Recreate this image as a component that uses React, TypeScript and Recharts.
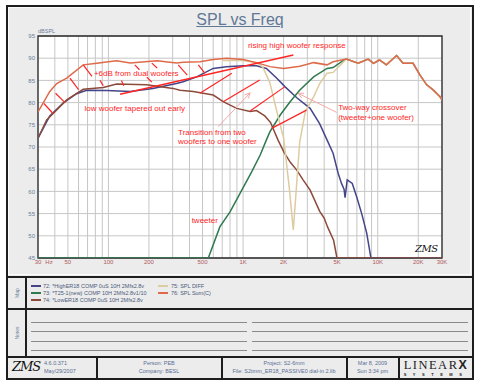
import React from 'react';
import { LineChart, Line, XAxis, YAxis, CartesianGrid, ReferenceLine, ReferenceDot, ReferenceArea } from 'recharts';

type Pt = { f: number; v: number };
const mk = (pairs: number[][]): Pt[] => pairs.map(([f, v]) => ({ f, v }));

// 72: high woofer
const highWoofer = mk([
  [30, 72], [36.7, 77], [45.7, 79.8], [58, 82], [69, 82.8], [97, 82.7], [145, 82.5], [214, 83.2],
  [320, 84.3], [359, 84.7], [452, 85.8], [600, 87.7], [754, 88.1], [1000, 88.3], [1258, 88.3],
  [1490, 87.7], [1780, 85.5], [2044, 83.6], [2505, 81.1], [3147, 78.7], [3708, 75.2], [4200, 71.6],
  [4660, 68.6], [5080, 64.1], [5380, 61.8], [5620, 60.5], [5720, 58.6], [5930, 62.6], [6470, 61.8],
  [6970, 58.8], [7600, 55], [8280, 50.6], [8900, 45], [30000, 45],
]);

// 73: tweeter
const tweeter = mk([
  [30, 45], [552, 45], [672, 52], [800, 55.4], [978, 60.3], [1158, 64.4], [1340, 68.2], [1490, 71.6],
  [1581, 73.4], [1887, 77.2], [2235, 80.2], [2630, 82.8], [3340, 85.8], [4200, 87.7], [4660, 87.9],
  [5500, 89.4], [5850, 89.8], [7150, 88.85], [8500, 89.8], [9300, 88.85], [10300, 89.6], [11600, 88.5],
  [13800, 90.6], [15400, 88.85], [18300, 88.85], [20600, 86.2], [23100, 84], [25900, 82.8], [29000, 81.3], [30000, 80.6],
]);

// 74: low woofer
const lowWoofer = mk([
  [30, 72], [34.8, 76.1], [49, 80.6], [65, 83], [91.6, 83.4], [115, 84.2], [192, 84], [302, 83.2],
  [340, 82.8], [426, 82.5], [600, 81.7], [711, 80.2], [897, 78.7], [1128, 78], [1258, 78.2], [1450, 77],
  [1600, 75.5], [1815, 71.6], [2014, 68.8], [2250, 66.5], [2505, 64.8], [2790, 62.6], [3147, 60.3],
  [3708, 55.5], [4000, 54], [4240, 52], [4700, 49], [4980, 45], [30000, 45],
]);

// 75: SPL diff
const splDiff = mk([
  [700, 89.5], [1000, 89.5], [1258, 89], [1400, 88], [1580, 84.5], [1780, 78], [2000, 72], [2200, 61],
  [2360, 51.3], [2450, 58], [2630, 71], [2900, 78], [3340, 81.3], [3708, 84.3], [4200, 86.6], [4660, 86.8],
  [5500, 89], [5850, 89.8], [7150, 88.85], [8500, 89.8], [9300, 88.85], [10300, 89.6], [11600, 88.5],
  [13800, 90.6], [15400, 88.85], [18300, 88.85], [20600, 86.2], [23100, 84], [25900, 82.8], [29000, 81.3], [30000, 80.6],
]);

// 76: SPL sum
const splSum = mk([
  [30, 77.9], [36.7, 82.5], [41.3, 84.3], [49, 85.5], [65, 88.5], [82, 88.85], [100, 89.2], [115, 89.4],
  [145, 88.9], [229, 89.4], [320, 88.9], [359, 89.1], [478, 89.2], [600, 89.7], [754, 90], [1000, 89.7],
  [1258, 89], [1581, 88.1], [2000, 87.7], [2643, 88.2], [3340, 89], [4200, 88.5], [4660, 89.2], [5850, 89.8],
  [7150, 88.85], [8500, 89.8], [9300, 88.85], [10300, 89.6], [11600, 88.5], [13800, 90.6], [15400, 88.85],
  [18300, 88.85], [20600, 86.2], [23100, 84], [25900, 82.8], [29000, 81.3], [30000, 80.6],
]);

const FREQ_GRID = [30, 40, 50, 60, 70, 80, 90, 100, 200, 300, 400, 500, 600, 700, 800, 900, 1000, 2000, 3000,
  4000, 5000, 6000, 7000, 8000, 9000, 10000, 20000, 30000];
const FREQ_LABELS: Record<number, string> = {
  30: '30', 50: '50', 100: '100', 200: '200', 500: '500', 1000: '1K', 2000: '2K', 5000: '5K',
  10000: '10K', 20000: '20K', 30000: '30K',
};
const DB_TICKS = [45, 50, 55, 60, 65, 70, 75, 80, 85, 90, 95];

// annotation hatch segments [f1, dB1, f2, dB2]
const hatchSegments = [
  [33.2, 79.8, 38.6, 77.6], [40.5, 82.1, 47.6, 80], [51.8, 85.5, 60, 82.9], [65, 88.5, 75.5, 85.9],
  [86.6, 85, 91.6, 83.8], [125, 85, 130, 83.8], [157, 88.5, 170, 87.4], [193, 85.7, 210, 84.6],
  [210, 88.9, 230, 87.8], [330, 88.5, 385, 86.2], [465, 88.5, 522, 86.6],
  [478, 82.1, 825, 86.6], [711, 80.2, 1330, 85.1], [1128, 78.1, 2044, 83.6], [1630, 74.2, 2958, 78.3],
];
const risingLine = [122, 81.9, 2360, 90.7];
const arrows = [[654, 74.6, 1128, 82.2], [4950, 77.8, 2560, 82.1]];
const annotations: { f: number; v: number; t: string }[] = [
  { f: 1087, v: 92.2, t: 'rising high woofer response' },
  { f: 78, v: 86, t: '+6dB from dual woofers' },
  { f: 66.5, v: 78.2, t: 'low woofer tapered out early' },
  { f: 329, v: 72.8, t: 'Transition from two' },
  { f: 329, v: 70.6, t: 'woofers to one woofer' },
  { f: 5080, v: 78.3, t: 'Two-way crossover' },
  { f: 5080, v: 76.1, t: '(tweeter+one woofer)' },
  { f: 415, v: 52.8, t: 'tweeter' },
];

const legendLeft = [
  { c: '#45458a', t: '72: *HighER18 COMP 0uS 10H 2Mfs2.8v' },
  { c: '#2f7a4f', t: '73: *T25-1(new) COMP 10H 2Mfs2.8v1/10' },
  { c: '#8c4a3a', t: '74: *LowER18 COMP 0uS 10H 2Mfs2.8v' },
];
const legendRight = [
  { c: '#dccca0', t: '75: SPL DIFF' },
  { c: '#de6a4a', t: '76: SPL Sum(C)' },
];

const FONT = "Arial, 'Liberation Sans', sans-serif";
const RED = '#ff2626';
const PINK = '#f4a8a8';

const XTick = (props: any) => {
  const { x, y, payload } = props;
  const lab = FREQ_LABELS[payload.value];
  if (!lab) return null;
  const common = { fontSize: 6, fill: '#b05a5a', fontFamily: FONT, dy: '0.71em' } as any;
  if (payload.value === 30) {
    return (
      <g>
        <text x={x} y={y} textAnchor="middle" {...common}>30</text>
        <text x={x + 11} y={y} textAnchor="middle" {...common}>Hz</text>
      </g>
    );
  }
  return <text x={x} y={y} textAnchor="middle" {...common}>{lab}</text>;
};

const YTick = (props: any) => {
  const { x, y, payload } = props;
  return (
    <text x={x} y={y} textAnchor="end" dy="0.35em" fontSize={6} fill="#6a7f99" fontFamily={FONT}>
      {payload.value}
    </text>
  );
};

const Arrow = (props: any) => {
  const { x1, y1, x2, y2 } = props;
  const a = Math.atan2(y2 - y1, x2 - x1);
  const L = 6;
  const w = 0.45;
  const p1 = `${x2 - L * Math.cos(a - w)},${y2 - L * Math.sin(a - w)}`;
  const p2 = `${x2 - L * Math.cos(a + w)},${y2 - L * Math.sin(a + w)}`;
  return (
    <g>
      <line x1={x1} y1={y1} x2={x2} y2={y2} stroke={PINK} strokeWidth={1} />
      <polyline points={`${p1} ${x2},${y2} ${p2}`} fill="none" stroke={PINK} strokeWidth={1} />
    </g>
  );
};

const textShape = (t: string) => (props: any) => (
  <text x={props.cx} y={props.cy} fill={RED} fontSize={8} fontFamily={FONT}>{t}</text>
);

const abs = (s: React.CSSProperties): React.CSSProperties => ({ position: 'absolute', ...s });

export default function App() {
  const footTxt = (s: React.CSSProperties) => abs({ fontSize: 5.5, color: '#5a6f94', fontFamily: FONT, lineHeight: '7px', ...s });
  return (
    <div style={{ position: 'relative', width: 480, height: 384, background: '#fff', fontFamily: FONT, overflow: 'hidden' }}>
      <style>{'body{margin:0}'}</style>
      {/* outer frame */}
      <div style={abs({ left: 6, top: 5, width: 468, height: 375, background: '#ececec', border: '2px solid #1e1e1e', boxSizing: 'border-box' })} />
      <div style={abs({ left: 8, top: 7, width: 463, height: 268, border: '1px solid #fafafa', boxSizing: 'border-box' })} />
      {/* separators */}
      <div style={abs({ left: 6, top: 275.5, width: 468, height: 2.5, background: '#1e1e1e' })} />
      <div style={abs({ left: 6, top: 307.5, width: 468, height: 2.5, background: '#1e1e1e' })} />
      <div style={abs({ left: 6, top: 355.5, width: 468, height: 2.5, background: '#1e1e1e' })} />
      <div style={abs({ left: 25, top: 278, width: 1.5, height: 78, background: '#1e1e1e' })} />
      {[96, 221, 346, 398].map((x) => (
        <div key={x} style={abs({ left: x, top: 358, width: 1.5, height: 20, background: '#1e1e1e' })} />
      ))}
      {/* title */}
      <div style={abs({ left: 0, width: 480, top: 11, textAlign: 'center', fontSize: 16, lineHeight: '18px', color: '#5f7896', textDecoration: 'underline' })}>
        SPL vs Freq
      </div>
      <div style={abs({ left: 38, top: 28, fontSize: 5.5, lineHeight: '6px', color: '#6a7f99' })}>dBSPL</div>

      {/* chart */}
      <div style={abs({ left: 0, top: 0 })}>
        <LineChart width={480} height={280} margin={{ top: 36, right: 38, bottom: 8, left: 8 }}>
          <CartesianGrid stroke="#c6c6c6" fill="#ffffff" strokeWidth={1} />
          <XAxis dataKey="f" type="number" scale="log" domain={[30, 30000]} allowDataOverflow ticks={FREQ_GRID}
            interval={0} height={14} axisLine={false} tickLine={false} tickSize={0} tickMargin={2} tick={<XTick />} />
          <YAxis type="number" domain={[45, 95]} ticks={DB_TICKS} interval={0} allowDataOverflow width={30} axisLine={false}
            tickLine={false} tickSize={0} tickMargin={3} tick={<YTick />} />
          <Line data={highWoofer} dataKey="v" stroke="#45458a" strokeWidth={1.5} dot={false} isAnimationActive={false} />
          <Line data={tweeter} dataKey="v" stroke="#2f7a4f" strokeWidth={1.5} dot={false} isAnimationActive={false} />
          <Line data={lowWoofer} dataKey="v" stroke="#8c4a3a" strokeWidth={1.5} dot={false} isAnimationActive={false} />
          <Line data={splDiff} dataKey="v" stroke="#dccca0" strokeWidth={1.5} dot={false} isAnimationActive={false} />
          <Line data={splSum} dataKey="v" stroke="#de6a4a" strokeWidth={1.5} dot={false} isAnimationActive={false} />
          {hatchSegments.map((s, i) => (
            <ReferenceLine key={'h' + i} segment={[{ x: s[0], y: s[1] }, { x: s[2], y: s[3] }]} stroke={RED} strokeWidth={1.2} />
          ))}
          <ReferenceLine segment={[{ x: risingLine[0], y: risingLine[1] }, { x: risingLine[2], y: risingLine[3] }]} stroke={RED} strokeWidth={1.5} />
          {arrows.map((s, i) => (
            <ReferenceLine key={'a' + i} segment={[{ x: s[0], y: s[1] }, { x: s[2], y: s[3] }]} shape={Arrow} />
          ))}
          {annotations.map((a, i) => (
            <ReferenceDot key={'t' + i} x={a.f} y={a.v} r={0} shape={textShape(a.t)} />
          ))}
          <ReferenceArea x1={30} x2={30000} y1={45} y2={95} fill="none" stroke="#2a2a2a" strokeWidth={1.3} ifOverflow="visible" />
        </LineChart>
      </div>
      <div style={abs({ left: 415, top: 243, fontSize: 10, lineHeight: '12px', fontStyle: 'italic', fontFamily: "'DejaVu Serif', serif", color: '#111', letterSpacing: -0.5 })}>ZMS</div>

      {/* map legend */}
      <div style={abs({ left: 9, top: 293, width: 16, height: 0 })}>
        <div style={abs({ left: 0, top: -3, width: 16, fontSize: 5, textAlign: 'center', color: '#6a7f99', transform: 'rotate(-90deg)' })}>Map</div>
      </div>
      {legendLeft.map((e, i) => (
        <React.Fragment key={e.t}>
          <div style={abs({ left: 31, top: 285 + i * 7.2, width: 10, height: 1.5, background: e.c })} />
          <div style={abs({ left: 43, top: 282.5 + i * 7.2, fontSize: 5.5, lineHeight: '6px', color: '#4a5a7a', whiteSpace: 'nowrap' })}>{e.t}</div>
        </React.Fragment>
      ))}
      {legendRight.map((e, i) => (
        <React.Fragment key={e.t}>
          <div style={abs({ left: 158, top: 285 + i * 7.2, width: 10, height: 1.5, background: e.c })} />
          <div style={abs({ left: 171, top: 282.5 + i * 7.2, fontSize: 5.5, lineHeight: '6px', color: '#4a5a7a', whiteSpace: 'nowrap' })}>{e.t}</div>
        </React.Fragment>
      ))}

      {/* notes */}
      <div style={abs({ left: 9, top: 333, width: 16, height: 0 })}>
        <div style={abs({ left: -2, top: -3, width: 20, fontSize: 5, textAlign: 'center', color: '#6a7f99', transform: 'rotate(-90deg)' })}>Notes</div>
      </div>
      {[321.5, 331, 340.5, 350].map((y) => (
        <React.Fragment key={y}>
          <div style={abs({ left: 31, top: y, width: 216, height: 1, background: '#8a8a8a' })} />
          <div style={abs({ left: 252, top: y, width: 216, height: 1, background: '#8a8a8a' })} />
        </React.Fragment>
      ))}

      {/* footer */}
      <div style={abs({ left: 12, top: 359, fontSize: 13, lineHeight: '16px', fontStyle: 'italic', fontFamily: "'DejaVu Serif', serif", color: '#111', letterSpacing: -1 })}>ZMS</div>
      <div style={footTxt({ left: 44, top: 359.5 })}>4.6.0.371</div>
      <div style={footTxt({ left: 44, top: 367.5 })}>May/29/2007</div>
      <div style={footTxt({ left: 97, width: 124, top: 359.5, textAlign: 'center' })}>Person: PEB</div>
      <div style={footTxt({ left: 97, width: 124, top: 367.5, textAlign: 'center' })}>Company: BESL</div>
      <div style={footTxt({ left: 222, width: 124, top: 359.5, textAlign: 'center' })}>Project: S2-6mm</div>
      <div style={footTxt({ left: 222, width: 124, top: 367.5, textAlign: 'center', whiteSpace: 'nowrap' })}>File: S2tmm_ER18_PASSIVE0 dial-in 2.lib</div>
      <div style={footTxt({ left: 347, width: 51, top: 359.5, textAlign: 'center' })}>Mar  8, 2009</div>
      <div style={footTxt({ left: 347, width: 51, top: 367.5, textAlign: 'center' })}>Sun  3:34 pm</div>
      <div style={abs({ left: 400, width: 72, top: 357.5, textAlign: 'center', fontSize: 12.5, lineHeight: '14px', fontFamily: "'Liberation Serif', serif", color: '#222', letterSpacing: 1.5, whiteSpace: 'nowrap' })}>
        LINEAR<b style={{ fontFamily: FONT, fontWeight: 900 }}>X</b>
      </div>
      <div style={abs({ left: 400, width: 72, top: 371.5, textAlign: 'center', fontSize: 4, lineHeight: '5px', fontWeight: 700, color: '#222', letterSpacing: 6.5, whiteSpace: 'nowrap' })}>
        SYSTEMS
      </div>
    </div>
  );
}
